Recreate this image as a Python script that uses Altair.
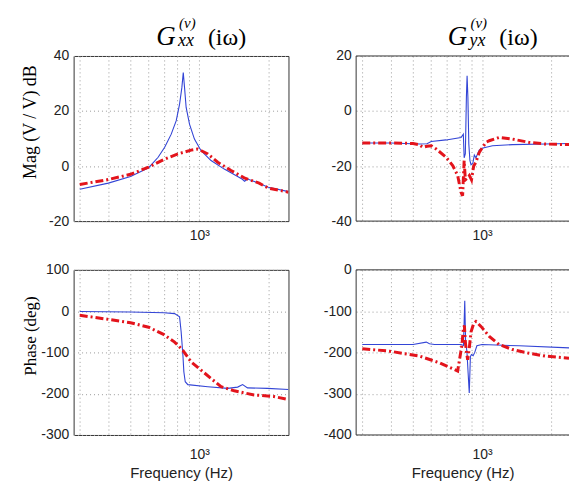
import altair as alt
import pandas as pd

# ---------------- data ----------------
XGRID = [300, 400, 500, 600, 700, 800, 900, 1000, 2000]
F_MIN = 282
F_MAX_L = 2450
F_MAX_R = 2400

# G_xx magnitude (dB)
f_xx_mag_blue = [300, 400, 500, 600, 660, 705, 753, 792, 819, 838, 850, 861, 875, 905, 951, 1017, 1124, 1284, 1469, 1540, 1575, 1625, 1850, 2000, 2450]
v_xx_mag_blue = [-8.4, -6.2, -3.8, -0.6, 3.2, 6.8, 11.6, 16.5, 22.5, 28.5, 34.0, 28.5, 21.3, 15.2, 9.8, 5.6, 2.0, -1.1, -3.8, -4.8, -5.5, -4.7, -6.5, -7.7, -9.3]
f_xx_mag_red = [300, 400, 500, 600, 700, 805, 920, 984, 1088, 1202, 1374, 1569, 1823, 2000, 2450]
v_xx_mag_red = [-6.7, -4.9, -3.0, -0.4, 2.4, 4.4, 5.8, 6.2, 4.4, 1.4, -1.6, -4.3, -6.2, -8.0, -9.5]

# G_xx phase (deg)
f_xx_ph_blue = [300, 500, 700, 779, 819, 832, 847, 855, 867, 890, 1088, 1329, 1469, 1544, 1623, 1982, 2450]
v_xx_ph_blue = [-1, -2, -4, -6, -14, -50, -107, -147, -171, -178, -183, -187, -184, -178, -186, -187, -190]
f_xx_ph_red = [300, 400, 500, 600, 700, 779, 847, 920, 1017, 1124, 1243, 1420, 1734, 2116, 2450]
v_xx_ph_red = [-10, -20, -28, -39, -57, -75, -95, -123, -143, -163, -183, -193, -203, -207, -214]

# G_yx magnitude (dB)
f_yx_mag_blue = [300, 400, 534, 575, 600, 697, 810, 829, 836, 846, 855, 861, 868, 876, 886, 896, 912, 926, 941, 973, 1000, 1112, 1359, 1897, 2400]
v_yx_mag_blue = [-11.6, -11.6, -12.0, -11.9, -11.1, -10.5, -9.6, -8.4, -17.0, -15.5, 5.0, 12.8, 5.0, -12.0, -18.0, -19.5, -19.0, -16.0, -17.0, -14.2, -13.5, -12.6, -12.2, -12.0, -11.8]
f_yx_mag_red = [300, 400, 500, 530, 552, 575, 600, 631, 697, 745, 783, 810, 823, 836, 846, 860, 881, 900, 920, 941, 973, 1006, 1041, 1076, 1189, 1359, 1605, 1897, 2400]
v_yx_mag_red = [-11.6, -11.6, -11.8, -12.2, -13.2, -12.8, -12.6, -13.8, -16.8, -19.8, -23.4, -29.5, -30.8, -18.0, -25.0, -24.5, -23.4, -25.0, -20.0, -18.6, -15.0, -13.2, -11.4, -10.8, -9.6, -10.2, -11.4, -12.0, -12.2]

# G_yx phase (deg)
f_yx_ph_blue = [300, 500, 571, 590, 620, 810, 830, 841, 848, 860, 870, 880, 890, 900, 915, 930, 950, 1000, 1453, 2400]
v_yx_ph_blue = [-181, -181, -175, -179, -181, -181, -183, -75, -170, -200, -250, -298, -210, -205, -208, -200, -184, -181, -184, -189]
f_yx_ph_red = [300, 395, 534, 651, 783, 818, 829, 838, 846, 856, 866, 880, 896, 920, 941, 990, 1076, 1189, 1359, 1605, 1897, 2400]
v_yx_ph_red = [-191, -197, -209, -225, -245, -181, -142, -135, -175, -200, -218, -190, -150, -130, -125, -137, -161, -181, -193, -202, -209, -214]

MAG_XX_DOMAIN = [-20, 40]
MAG_XX_TICKS = [-20, 0, 20, 40]
MAG_YX_DOMAIN = [-40, 20]
MAG_YX_TICKS = [-40, -20, 0, 20]
PH_XX_DOMAIN = [-300, 100]
PH_XX_TICKS = [-300, -200, -100, 0, 100]
PH_YX_DOMAIN = [-400, 0]
PH_YX_TICKS = [-400, -300, -200, -100, 0]

# ---------------- styling ----------------
BLUE = "#3345d6"
RED = "#e3141c"
FRAME = "#333333"
W_L, W_R, H = 216, 214, 166
ONE = pd.DataFrame({"k": [0]})


def txt(s, x, y, size, style="normal"):
    return alt.Chart(ONE).mark_text(
        text=s, font="Liberation Serif", fontSize=size, fontStyle=style,
        align="left", baseline="alphabetic", color="black"
    ).encode(x=alt.value(x), y=alt.value(y))


def panel(bf, bv, rf, rv, ydom, yticks, width, xmax, ytitle, ytsize, xtitle, sub, tx, right):
    dfb = pd.DataFrame({"f": bf, "v": bv})
    dfr = pd.DataFrame({"f": rf, "v": rv})
    xaxis_kw = dict(
        values=XGRID, grid=True, labelExpr="datum.value == 1000 ? '10³' : ''",
        labelOverlap=False, labelFlush=False, labelPadding=13 if xtitle else 7,
        labelFont="Liberation Sans", labelFontSize=14,
        titleFont="Liberation Sans", titleFontSize=15, titleFontWeight="normal",
        titleColor="#222", titlePadding=4,
    )
    xaxis = alt.Axis(title=xtitle, **xaxis_kw) if xtitle else alt.Axis(title=None, **xaxis_kw)
    yaxis_kw = dict(
        values=yticks, grid=True, labelExpr="'' + datum.value", labelPadding=5,
        labelFont="Liberation Sans", labelFontSize=14,
    )
    if ytitle:
        yaxis = alt.Axis(title=ytitle, titleFont="Liberation Serif", titleFontSize=ytsize,
                         titleFontWeight="normal", titleColor="black", titleAngle=-90,
                         titleX=-43, titleY=66, titleAlign="center", titleBaseline="middle",
                         **yaxis_kw)
    else:
        yaxis = alt.Axis(title=None, **yaxis_kw)
    x = alt.X("f:Q", scale=alt.Scale(type="log", domain=[F_MIN, xmax], nice=False), axis=xaxis)
    y = alt.Y("v:Q", scale=alt.Scale(domain=ydom, nice=False, zero=False), axis=yaxis)
    blue = alt.Chart(dfb).mark_line(color=BLUE, strokeWidth=1.1, clip=True).encode(x=x, y=y)
    red = alt.Chart(dfr).mark_line(color=RED, strokeWidth=3, strokeDash=[8, 3, 2, 3], clip=True).encode(
        x="f:Q", y="v:Q")
    layers = [blue, red]
    if sub:
        layers += [txt("G", tx, -11, 27, "italic"),
                   txt("(v)", tx + 23, -28, 15, "italic"),
                   txt(sub, tx + 22, -10, 18, "italic"),
                   txt("(iω)", tx + 52, -11, 24)]
    if right:
        layers += [
            alt.Chart(ONE).mark_rule(color=FRAME, strokeWidth=1).encode(
                x=alt.value(0), x2=alt.value(width), y=alt.value(0)),
            alt.Chart(ONE).mark_rule(color=FRAME, strokeWidth=1).encode(
                x=alt.value(0), x2=alt.value(width), y=alt.value(H)),
            alt.Chart(ONE).mark_rule(color=FRAME, strokeWidth=1).encode(
                x=alt.value(0), y=alt.value(0), y2=alt.value(H)),
        ]
    ch = alt.layer(*layers).properties(width=width, height=H)
    if right:
        ch = ch.properties(view=alt.ViewBackground(stroke="transparent"))
    return ch


tl = panel(f_xx_mag_blue, v_xx_mag_blue, f_xx_mag_red, v_xx_mag_red, MAG_XX_DOMAIN, MAG_XX_TICKS,
           W_L, F_MAX_L, "Mag  (V / V)  dB", 18, None, "xx", 83, False)
tr = panel(f_yx_mag_blue, v_yx_mag_blue, f_yx_mag_red, v_yx_mag_red, MAG_YX_DOMAIN, MAG_YX_TICKS,
           W_R, F_MAX_R, None, 17, None, "yx", 92, True)
bl = panel(f_xx_ph_blue, v_xx_ph_blue, f_xx_ph_red, v_xx_ph_red, PH_XX_DOMAIN, PH_XX_TICKS,
           W_L, F_MAX_L, "Phase (deg)", 17, "Frequency (Hz)", None, 0, False)
br = panel(f_yx_ph_blue, v_yx_ph_blue, f_yx_ph_red, v_yx_ph_red, PH_YX_DOMAIN, PH_YX_TICKS,
           W_R, F_MAX_R, None, 17, "Frequency (Hz)", None, 0, True)

chart = alt.concat(
    tl, tr, bl, br, columns=2,
    spacing=alt.RowColnumber(row=49, column=68), bounds="flush"
).properties(
    padding={"left": 21, "top": 14, "right": 0, "bottom": 0}
).configure_view(stroke=FRAME, strokeWidth=1).configure_axis(
    labelColor="#222", gridColor="#9a9a9a", gridDash=[1, 3], gridWidth=1,
    domain=False, ticks=False
)

chart.save("out.html", embed_options={"renderer": "svg", "actions": False})
